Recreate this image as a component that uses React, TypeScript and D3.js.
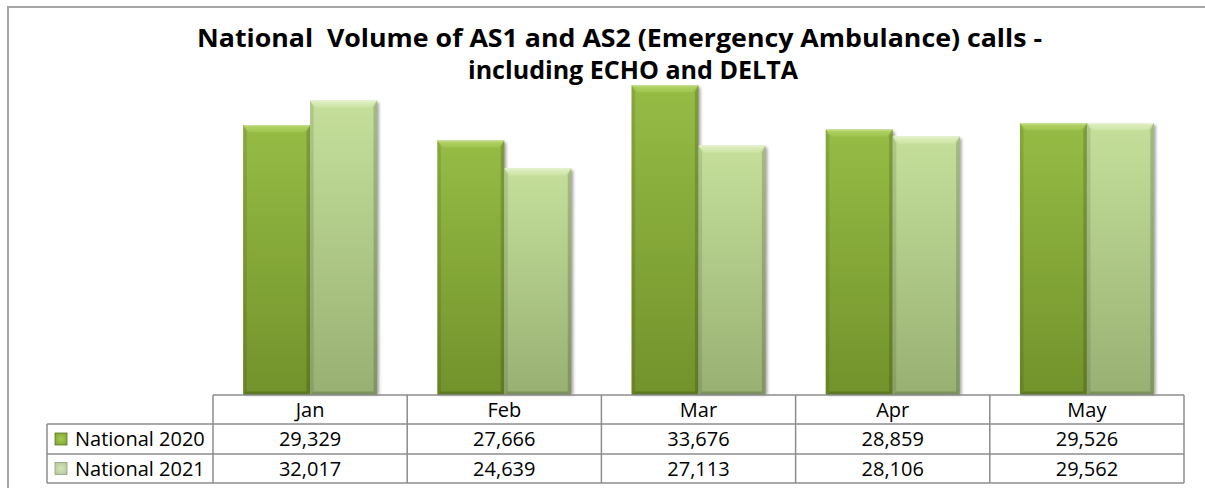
import React from "react";
import * as d3 from "d3";

const months = ["Jan", "Feb", "Mar", "Apr", "May"];
const seriesNames = ["National 2020", "National 2021"];
const values2020 = [29329, 27666, 33676, 28859, 29526];
const values2021 = [32017, 24639, 27113, 28106, 29562];
const titleLines = [
  "National  Volume of AS1 and AS2 (Emergency Ambulance) calls -",
  "including ECHO and DELTA",
];

const W = 1205;
const H = 488;

const palettes = [
  { top: "#96bc45", bottom: "#72922b", bevel: "#b4d569", bevel2: "#9fc44e", key: "#83a637", keyEdge: "#5d7a1f", keyMid: "#a6cc52" },
  { top: "#c5df9b", bottom: "#98b173", bevel: "#e0f0c2", bevel2: "#cde4a7", key: "#b9c99e", keyEdge: "#8f9f78", keyMid: "#d6e6bb" },
];

export default function App() {
  const left = 213;
  const right = 1184;
  const baseY = 395;
  const rowH = [395, 424, 454, 483];
  const legendLeft = 47;

  const x0 = d3.scaleBand<string>().domain(months).range([left, right]).paddingInner(0).paddingOuter(0);
  const x1 = d3
    .scaleBand<string>()
    .domain(seriesNames)
    .range([0, x0.bandwidth()])
    .paddingInner(0)
    .paddingOuter(0.45);
  const y = d3.scaleLinear().domain([0, 40000]).range([baseY, 27]);

  const series = [values2020, values2021];
  const fmt = d3.format(",");

  const bars: any[] = [];
  series.forEach((vals, si) => {
    vals.forEach((v, mi) => {
      const bx = (x0(months[mi]) as number) + (x1(seriesNames[si]) as number);
      const bw = x1.bandwidth();
      const by = y(v);
      const bh = baseY - by;
      const b = 6;
      bars.push(
        <g key={`b${si}-${mi}`}>
          <rect x={bx + 2} y={by + 2} width={bw} height={bh - 2} fill="#000" opacity={0.35} filter="url(#blur)" />
          <rect x={bx} y={by} width={bw} height={bh} fill={`url(#grad${si})`} />
          <polygon
            points={`${bx},${by} ${bx + bw},${by} ${bx + bw - b},${by + b + 1} ${bx + b},${by + b + 1}`}
            fill={`url(#bev${si})`}
          />
          <polygon
            points={`${bx},${by} ${bx + b * 0.6},${by + b + 1} ${bx + b * 0.6},${by + bh - b * 0.6} ${bx},${by + bh}`}
            fill="#000"
            opacity={0.1}
          />
          <polygon
            points={`${bx + bw},${by} ${bx + bw - b * 0.6},${by + b + 1} ${bx + bw - b * 0.6},${by + bh - b * 0.6} ${bx + bw},${by + bh}`}
            fill="#000"
            opacity={0.16}
          />
          <polygon
            points={`${bx},${by + bh} ${bx + b * 0.6},${by + bh - b * 0.6} ${bx + bw - b * 0.6},${by + bh - b * 0.6} ${bx + bw},${by + bh}`}
            fill="#000"
            opacity={0.18}
          />
          <line x1={bx + 1} x2={bx + bw - 1} y1={by + 0.5} y2={by + 0.5} stroke="#ffffff" strokeOpacity={0.35} />
        </g>
      );
    });
  });

  const tableStroke = "#8c8c8c";
  const font = "'Open Sans', sans-serif";

  return (
    <svg width={W} height={H} style={{ position: "absolute", left: 0, top: 0, background: "#fff" }}>
      <defs>
        <filter id="blur" x="-20%" y="-20%" width="140%" height="140%">
          <feGaussianBlur stdDeviation="1.6" />
        </filter>
        {palettes.map((p, i) => (
          <linearGradient key={`g${i}`} id={`grad${i}`} x1="0" y1="0" x2="0" y2="1">
            <stop offset="0" stopColor={p.top} />
            <stop offset="1" stopColor={p.bottom} />
          </linearGradient>
        ))}
        {palettes.map((p, i) => (
          <linearGradient key={`v${i}`} id={`bev${i}`} x1="0" y1="0" x2="0" y2="1">
            <stop offset="0" stopColor={p.bevel} />
            <stop offset="1" stopColor={p.bevel2} />
          </linearGradient>
        ))}
        {palettes.map((p, i) => (
          <radialGradient key={`k${i}`} id={`key${i}`} cx="0.5" cy="0.5" r="0.6">
            <stop offset="0" stopColor={p.keyMid} />
            <stop offset="1" stopColor={p.key} />
          </radialGradient>
        ))}
      </defs>

      {/* chart border */}
      <line x1={8} x2={W + 5} y1={7} y2={7} stroke="#a6a6a6" strokeWidth={2} />
      <line x1={8} x2={8} y1={6} y2={H + 5} stroke="#a6a6a6" strokeWidth={2} />

      {/* title */}
      <text x={197} y={47} fontFamily={font} fontWeight={700} fontSize={25} fill="#000" textLength={845} lengthAdjust="spacingAndGlyphs" style={{ whiteSpace: "pre" }}>
        {titleLines[0]}
      </text>
      <text x={468} y={79} fontFamily={font} fontWeight={700} fontSize={25} fill="#000" textLength={330} lengthAdjust="spacingAndGlyphs">
        {titleLines[1]}
      </text>

      {bars}

      {/* data table */}
      <g fill="none" stroke={tableStroke} strokeWidth={1.5}>
        <line x1={left} x2={right} y1={rowH[0]} y2={rowH[0]} />
        <line x1={legendLeft} x2={right} y1={rowH[1]} y2={rowH[1]} />
        <line x1={legendLeft} x2={right} y1={rowH[2]} y2={rowH[2]} />
        <line x1={legendLeft} x2={right} y1={rowH[3]} y2={rowH[3]} />
        <line x1={legendLeft} x2={legendLeft} y1={rowH[1]} y2={rowH[3]} />
        {months.map((m) => (
          <line key={m} x1={x0(m) as number} x2={x0(m) as number} y1={rowH[0]} y2={rowH[3]} />
        ))}
        <line x1={right} x2={right} y1={rowH[0]} y2={rowH[3]} />
      </g>
      {months.map((m) => (
        <text
          key={`h${m}`}
          x={(x0(m) as number) + x0.bandwidth() / 2}
          y={(rowH[0] + rowH[1]) / 2 + 7}
          textAnchor="middle"
          fontFamily={font}
          fontSize={20}
          fill="#000"
        >
          {m}
        </text>
      ))}
      {series.map((vals, si) => (
        <g key={`row${si}`}>
          <rect x={55} y={(rowH[si + 1] + rowH[si + 2]) / 2 - 6} width={12} height={12} fill={`url(#key${si})`} stroke={palettes[si].keyEdge} strokeWidth={0.8} />
          <text x={75} y={(rowH[si + 1] + rowH[si + 2]) / 2 + 7} fontFamily={font} fontSize={20} fill="#000">
            {seriesNames[si]}
          </text>
          {vals.map((v, mi) => (
            <text
              key={`c${si}-${mi}`}
              x={(x0(months[mi]) as number) + x0.bandwidth() / 2}
              y={(rowH[si + 1] + rowH[si + 2]) / 2 + 7}
              textAnchor="middle"
              fontFamily={font}
              fontSize={20}
              fill="#000"
            >
              {fmt(v)}
            </text>
          ))}
        </g>
      ))}
    </svg>
  );
}
